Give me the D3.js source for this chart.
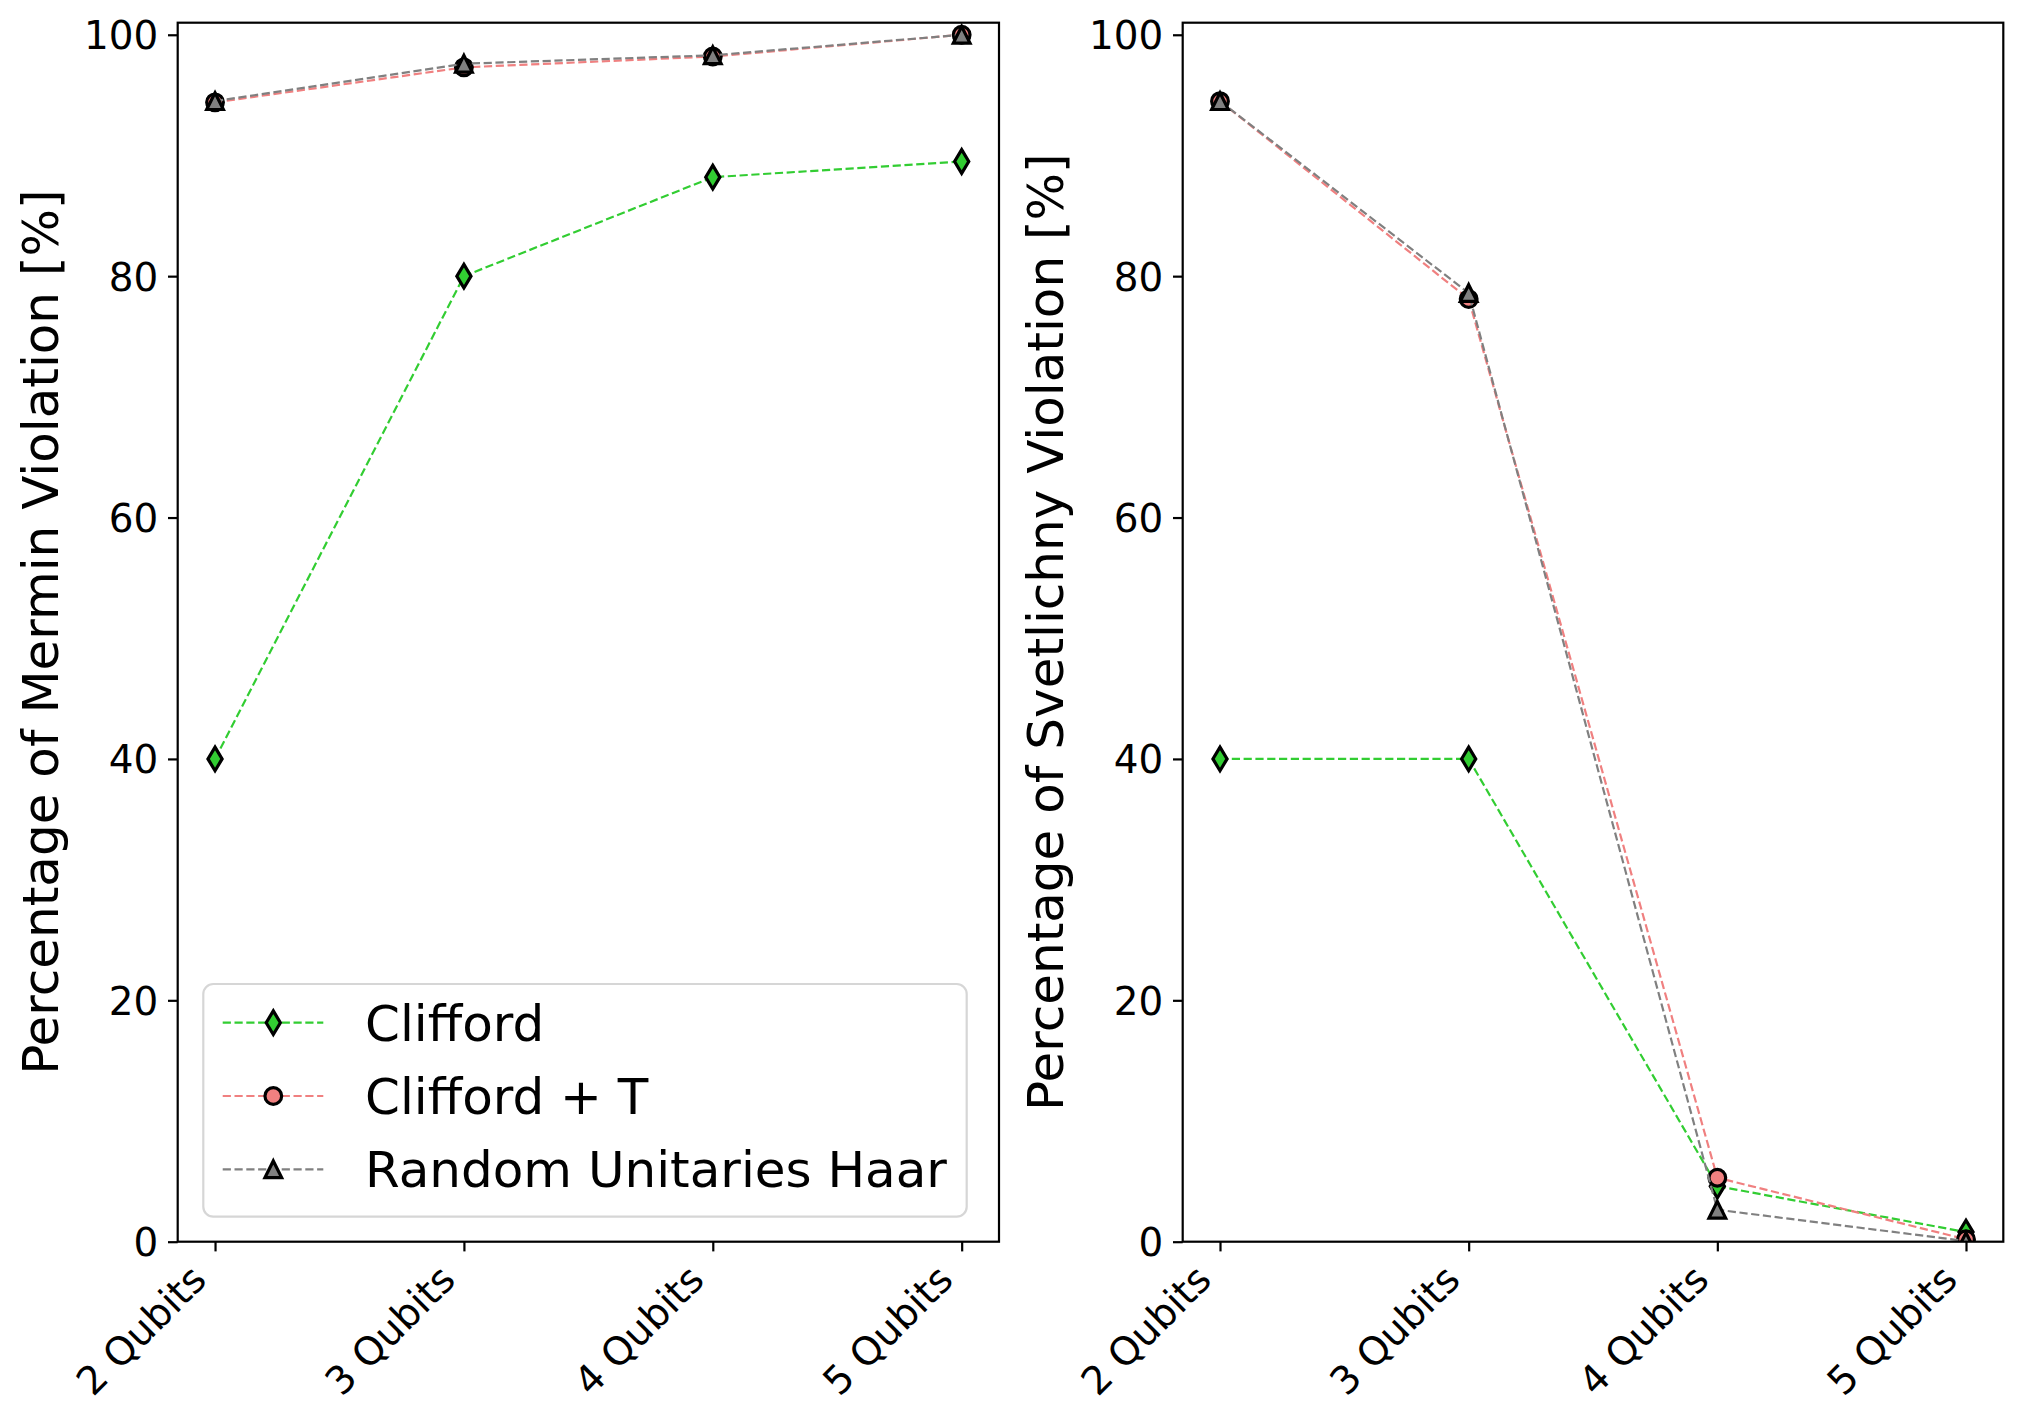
<!DOCTYPE html>
<html>
<head>
<meta charset="utf-8">
<script src="https://cdn.jsdelivr.net/npm/d3@7"></script>
<style>
  html, body { margin: 0; padding: 0; background: #fff; }
  text { font-family: "DejaVu Sans", sans-serif; fill: #000; }
</style>
</head>
<body>
<svg id="chart" width="2023" height="1423"></svg>
<script>
// data
var categories = ["2 Qubits", "3 Qubits", "4 Qubits", "5 Qubits"];
var seriesNames = ["Clifford", "Clifford + T", "Random Unitaries Haar"];
var merminClifford  = [40, 80, 88.2, 89.5];
var merminCliffordT = [94.4, 97.3, 98.2, 100];
var merminHaar      = [94.5, 97.6, 98.3, 100];
var svetClifford    = [40, 40, 4.6, 0.8];
var svetCliffordT   = [94.5, 78.1, 5.3, 0.2];
var svetHaar        = [94.5, 78.6, 2.65, 0.05];
var yTicks = [0, 20, 40, 60, 80, 100];

// styles (matplotlib-ish, 200 dpi)
var styles = [
  { color: "#32cd32", marker: "thin_diamond" },
  { color: "#f08080", marker: "circle" },
  { color: "#808080", marker: "triangle" }
];
var ms = 16.7;           // markersize 6pt
var edgeW = 3.2;
var tickFont = 38.9, labelFont = 50, legendFont = 50;

function markerPath(kind) {
  var p = d3.path();
  if (kind === "thin_diamond") {
    var h = 1.4142 * ms / 2, w = 0.6 * h;
    p.moveTo(0, -h); p.lineTo(w, 0); p.lineTo(0, h); p.lineTo(-w, 0); p.closePath();
  } else if (kind === "circle") {
    p.arc(0, 0, ms / 2, 0, 2 * Math.PI); p.closePath();
  } else {
    var r = ms / 2;
    p.moveTo(0, -r); p.lineTo(r, r); p.lineTo(-r, r); p.closePath();
  }
  return p.toString();
}

var svg = d3.select("#chart");
svg.append("rect").attr("width", 2023).attr("height", 1423).attr("fill", "#fff");

function drawPanel(id, left, right, series, ylabel, withLegend) {
  var top = 22.7, bottom = 1241.7;
  var x = d3.scaleLinear().domain([-0.15, 3.15]).range([left, right]);
  var y = d3.scaleLinear().domain([0, 101]).range([bottom, top]);
  var g = svg.append("g");

  g.append("clipPath").attr("id", "clip" + id)
    .append("rect").attr("x", left).attr("y", top)
    .attr("width", right - left).attr("height", bottom - top);

  var plot = g.append("g").attr("clip-path", "url(#clip" + id + ")");
  var line = d3.line().x(function(d, i) { return x(i); }).y(function(d) { return y(d); });

  series.forEach(function(vals, s) {
    plot.append("path")
      .attr("d", line(vals))
      .attr("fill", "none")
      .attr("stroke", styles[s].color)
      .attr("stroke-width", 2.2)
      .attr("stroke-dasharray", "8.2,3.6");
    plot.selectAll(".m" + s).data(vals).enter().append("path")
      .attr("class", "m" + s)
      .attr("d", markerPath(styles[s].marker))
      .attr("transform", function(d, i) { return "translate(" + x(i) + "," + y(d) + ")"; })
      .attr("fill", styles[s].color)
      .attr("stroke", "#000")
      .attr("stroke-width", edgeW)
      .attr("stroke-linejoin", "miter");
  });

  // axes
  var xAxis = d3.axisBottom(x).tickValues([0, 1, 2, 3]).tickSize(9.7).tickFormat("");
  var gx = g.append("g").attr("transform", "translate(0," + bottom + ")").call(xAxis);
  gx.select(".domain").remove();
  gx.selectAll(".tick line").attr("stroke", "#000").attr("stroke-width", 2.2);

  var yAxis = d3.axisLeft(y).tickValues(yTicks).tickSize(9.7).tickPadding(9.7);
  var gy = g.append("g").attr("transform", "translate(" + left + ",0)").call(yAxis);
  gy.select(".domain").remove();
  gy.selectAll(".tick line").attr("stroke", "#000").attr("stroke-width", 2.2);
  gy.selectAll(".tick text")
    .attr("font-family", "DejaVu Sans")
    .attr("font-size", tickFont)
    .attr("dy", "0.36em")
    .attr("fill", "#000");

  // rotated category labels
  var ty = bottom + 9.7 + 9.7;
  g.selectAll(".xlab").data(categories).enter().append("text")
    .attr("class", "xlab")
    .attr("font-size", tickFont)
    .attr("text-anchor", "end")
    .attr("transform", function(d, i) {
      var ax = x(i) - 0.7071 * 0.24 * tickFont;
      var ay = ty + 0.7071 * 0.76 * tickFont;
      return "translate(" + ax + "," + ay + ") rotate(-45)";
    })
    .text(function(d) { return d; });

  // frame
  g.append("rect").attr("x", left).attr("y", top)
    .attr("width", right - left).attr("height", bottom - top)
    .attr("fill", "none").attr("stroke", "#000").attr("stroke-width", 2.2);

  // y label
  var cy = (top + bottom) / 2;
  var lx = left - 136.7 + 17;
  g.append("text")
    .attr("font-size", labelFont)
    .attr("text-anchor", "middle")
    .attr("transform", "translate(" + lx + "," + cy + ") rotate(-90)")
    .text(ylabel);

  if (withLegend) {
    var lg = g.append("g");
    var bx = left + 25.6, by = 984, bw = 763.4, bh = 232.7;
    lg.append("rect").attr("x", bx).attr("y", by).attr("width", bw).attr("height", bh)
      .attr("rx", 10).attr("ry", 10)
      .attr("fill", "#fff").attr("fill-opacity", 0.8)
      .attr("stroke", "#d6d6d6").attr("stroke-width", 2.2);
    var rows = [1022.7, 1096, 1169.3];
    seriesNames.forEach(function(name, s) {
      var ry = rows[s];
      lg.append("line").attr("x1", bx + 19.4).attr("x2", bx + 120)
        .attr("y1", ry).attr("y2", ry)
        .attr("stroke", styles[s].color).attr("stroke-width", 2.2)
        .attr("stroke-dasharray", "8.2,3.6");
      lg.append("path").attr("d", markerPath(styles[s].marker))
        .attr("transform", "translate(" + (bx + 70) + "," + ry + ")")
        .attr("fill", styles[s].color).attr("stroke", "#000").attr("stroke-width", edgeW);
      lg.append("text").attr("x", bx + 161.7).attr("y", ry).attr("dy", "0.36em")
        .attr("font-size", legendFont).text(name);
    });
  }
}

drawPanel("a", 177.7, 999, [merminClifford, merminCliffordT, merminHaar],
  "Percentage of Mermin Violation [%]", true);
drawPanel("b", 1182.7, 2003.3, [svetClifford, svetCliffordT, svetHaar],
  "Percentage of Svetlichny Violation [%]", false);
</script>
</body>
</html>
